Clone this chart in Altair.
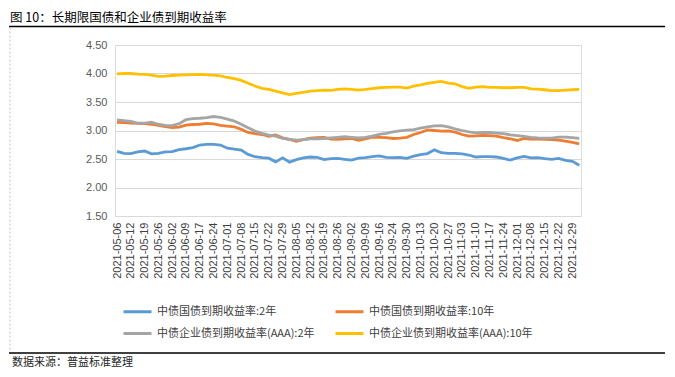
import altair as alt
import pandas as pd

TITLE = "图 10：长期限国债和企业债到期收益率"
SOURCE = "数据来源：普益标准整理"

# x-axis category labels (every 5th trading day)
date_labels = [
    "2021-05-06", "2021-05-12", "2021-05-19", "2021-05-26", "2021-06-02", "2021-06-09",
    "2021-06-17", "2021-06-24", "2021-07-01", "2021-07-08", "2021-07-15", "2021-07-22",
    "2021-07-29", "2021-08-05", "2021-08-12", "2021-08-19", "2021-08-26", "2021-09-02",
    "2021-09-09", "2021-09-16", "2021-09-24", "2021-09-30", "2021-10-13", "2021-10-20",
    "2021-10-27", "2021-11-03", "2021-11-10", "2021-11-17", "2021-11-24", "2021-12-01",
    "2021-12-08", "2021-12-15", "2021-12-22", "2021-12-29",
]

series_names = [
    "中债国债到期收益率:2年",
    "中债国债到期收益率:10年",
    "中债企业债到期收益率(AAA):2年",
    "中债企业债到期收益率(AAA):10年",
]
series_colors = ["#5B9BD5", "#ED7D31", "#A5A5A5", "#FFC000"]

# legend is filled column by column
legend_order = [series_names[0], series_names[2], series_names[1], series_names[3]]
legend_colors = [series_colors[0], series_colors[2], series_colors[1], series_colors[3]]

# values sampled every half label step (index j; label k sits at j = 2k)
gov_2y = [
    2.635, 2.60, 2.595, 2.625, 2.64, 2.59, 2.60, 2.625, 2.63, 2.665,
    2.68, 2.70, 2.745, 2.755, 2.755, 2.745, 2.69, 2.675, 2.655, 2.58,
    2.54, 2.525, 2.515, 2.45, 2.52, 2.445, 2.49, 2.52, 2.535, 2.53,
    2.49, 2.505, 2.51, 2.495, 2.48, 2.515, 2.525, 2.54, 2.555, 2.53,
    2.525, 2.53, 2.51, 2.55, 2.575, 2.595, 2.66, 2.61, 2.60, 2.60,
    2.59, 2.57, 2.535, 2.54, 2.54, 2.535, 2.51, 2.48, 2.52, 2.545,
    2.52, 2.525, 2.505, 2.495, 2.51, 2.475, 2.46, 2.39,
]
gov_10y = [
    3.145, 3.14, 3.13, 3.125, 3.12, 3.11, 3.09, 3.07, 3.05, 3.06,
    3.095, 3.105, 3.11, 3.125, 3.115, 3.09, 3.075, 3.065, 3.02, 2.965,
    2.945, 2.93, 2.90, 2.92, 2.87, 2.845, 2.81, 2.84, 2.865, 2.875,
    2.88, 2.85, 2.845, 2.855, 2.86, 2.83, 2.855, 2.885, 2.88, 2.875,
    2.86, 2.865, 2.88, 2.93, 2.965, 3.01, 3.00, 2.99, 2.995, 2.97,
    2.93, 2.90, 2.905, 2.915, 2.91, 2.90, 2.875, 2.855, 2.825, 2.86,
    2.85, 2.85, 2.845, 2.84, 2.83, 2.815, 2.79, 2.765,
]
corp_2y = [
    3.185, 3.175, 3.16, 3.13, 3.13, 3.145, 3.11, 3.09, 3.085, 3.12,
    3.19, 3.21, 3.215, 3.225, 3.245, 3.23, 3.20, 3.165, 3.11, 3.05,
    2.99, 2.95, 2.92, 2.90, 2.86, 2.845, 2.83, 2.84, 2.855, 2.855,
    2.86, 2.87, 2.88, 2.89, 2.88, 2.87, 2.88, 2.90, 2.93, 2.95,
    2.975, 2.995, 3.005, 3.015, 3.04, 3.065, 3.08, 3.085, 3.065, 3.03,
    3.00, 2.975, 2.96, 2.965, 2.965, 2.955, 2.945, 2.925, 2.91, 2.895,
    2.88, 2.87, 2.865, 2.865, 2.885, 2.885, 2.875, 2.86,
]
corp_10y = [
    3.995, 4.00, 4.00, 3.99, 3.985, 3.97, 3.95, 3.955, 3.965, 3.97,
    3.975, 3.98, 3.985, 3.975, 3.97, 3.96, 3.93, 3.91, 3.88, 3.83,
    3.78, 3.74, 3.72, 3.69, 3.66, 3.63, 3.65, 3.67, 3.69, 3.70,
    3.71, 3.705, 3.72, 3.73, 3.72, 3.71, 3.72, 3.735, 3.75, 3.755,
    3.76, 3.76, 3.745, 3.78, 3.80, 3.825, 3.845, 3.86, 3.83, 3.82,
    3.77, 3.74, 3.76, 3.77, 3.755, 3.755, 3.75, 3.75, 3.755, 3.755,
    3.73, 3.725, 3.715, 3.70, 3.70, 3.71, 3.715, 3.72,
]

y_ticks = [1.5, 2.0, 2.5, 3.0, 3.5, 4.0, 4.5]

rows = []
for name, vals in zip(series_names, [gov_2y, gov_10y, corp_2y, corp_10y]):
    for j, v in enumerate(vals):
        rows.append({"j": j, "v": v, "s": name})
df = pd.DataFrame(rows)

FONT = "Liberation Sans"
CJK = "Noto Sans CJK SC"

label_js = "[" + ",".join("'%s'" % d for d in date_labels) + "]"

lines = alt.Chart(df).mark_line(strokeWidth=2.8, clip=True).encode(
    x=alt.X(
        "j:Q",
        scale=alt.Scale(domain=[-0.29, 67.25], nice=False, zero=False),
        axis=alt.Axis(
            title=None,
            values=list(range(0, 2 * len(date_labels), 2)),
            labelExpr=label_js + "[round(datum.value/2)]",
            labelAngle=-90,
            labelAlign="right",
            labelBaseline="middle",
            labelPadding=6,
            labelFont=FONT,
            labelFontSize=11,
            labelColor="#404040",
            ticks=False,
            domain=False,
            grid=False,
            labelOverlap=False,
        ),
    ),
    y=alt.Y(
        "v:Q",
        scale=alt.Scale(domain=[1.5, 4.5], nice=False, zero=False),
        axis=alt.Axis(
            title=None,
            values=y_ticks,
            format=".2f",
            labelFont=FONT,
            labelFontSize=11,
            labelColor="#595959",
            labelPadding=8,
            ticks=False,
            domain=False,
            grid=True,
            gridColor="#D9D9D9",
            gridWidth=1,
        ),
    ),
    color=alt.Color(
        "s:N",
        scale=alt.Scale(domain=legend_order, range=legend_colors),
        legend=alt.Legend(
            title=None,
            orient="none",
            legendX=7,
            legendY=251,
            columns=2,
            columnPadding=14,
            rowPadding=-4,
            symbolType="stroke",
            symbolSize=784,
            symbolStrokeWidth=3,
            labelFont=CJK,
            labelFontSize=11,
            labelColor="#404040",
            labelOffset=4,
            labelLimit=300,
        ),
    ),
    detail="s:N",
)

one = pd.DataFrame({"k": [0]})

title = alt.Chart(pd.DataFrame({"t": [TITLE]})).mark_text(
    align="left", baseline="middle", font=CJK, fontSize=12.5, color="#000000"
).encode(x=alt.value(-105), y=alt.value(-27), text="t:N")

source = alt.Chart(pd.DataFrame({"t": [SOURCE]})).mark_text(
    align="left", baseline="middle", font=CJK, fontSize=11, color="#262626"
).encode(x=alt.value(-103), y=alt.value(317.5), text="t:N")

top_rule = alt.Chart(one).mark_rule(color="#000000", strokeWidth=1.5).encode(
    x=alt.value(-106), x2=alt.value(555), y=alt.value(-18.5)
)
bottom_rule = alt.Chart(one).mark_rule(color="#000000", strokeWidth=1.5).encode(
    x=alt.value(-106), x2=alt.value(555), y=alt.value(308)
)
left_rule = alt.Chart(one).mark_rule(color="#BFBFBF", strokeWidth=1, strokeDash=[2, 2]).encode(
    x=alt.value(-105), y=alt.value(-17.5), y2=alt.value(307)
)

chart = alt.layer(lines, title, source, top_rule, bottom_rule, left_rule).properties(
    width=466,
    height=171,
    autosize=alt.AutoSizeParams(type="none"),
    padding={"left": 107, "top": 37, "right": 84, "bottom": 153},
).configure_view(stroke=None).configure(background="#FFFFFF")

chart.save("out.html", embed_options={"renderer": "svg", "actions": False})
